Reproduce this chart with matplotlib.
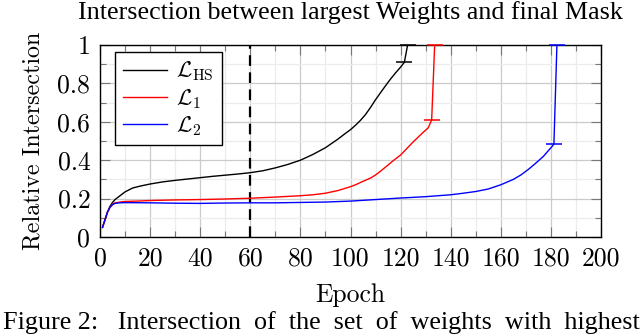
import matplotlib
matplotlib.use('Agg')
from matplotlib import pyplot as plt
from matplotlib.ticker import MultipleLocator, FuncFormatter

plt.rcParams['mathtext.fontset'] = 'cm'
plt.rcParams['axes.formatter.use_mathtext'] = True

# L_HS curve (black)
hs_epochs = [1, 2, 3, 4, 5, 6, 8, 10, 13, 16, 20, 25, 30, 35, 40, 45, 50, 55, 60,
             65, 70, 75, 80, 85, 90, 92, 95, 98, 100, 102, 104, 106, 108, 110, 112,
             114, 116, 118, 120, 121.5, 122.8]
hs_values = [0.05, 0.09, 0.13, 0.16, 0.18, 0.195, 0.215, 0.235, 0.255, 0.265, 0.276,
             0.287, 0.295, 0.302, 0.309, 0.316, 0.322, 0.328, 0.335, 0.345, 0.36,
             0.378, 0.40, 0.43, 0.465, 0.483, 0.51, 0.54, 0.559, 0.582, 0.608, 0.638,
             0.675, 0.715, 0.752, 0.788, 0.823, 0.855, 0.885, 0.91, 1.0]

# L_1 curve (red)
l1_epochs = [1, 2, 3, 4, 5, 6, 8, 10, 15, 20, 30, 40, 50, 60, 70, 80, 85, 90, 95,
             100, 102, 105, 108, 110, 112, 115, 117, 120, 123, 125, 127, 129, 131,
             132.4, 133.6]
l1_values = [0.05, 0.09, 0.13, 0.155, 0.17, 0.178, 0.182, 0.185, 0.187, 0.19, 0.193,
             0.195, 0.198, 0.202, 0.208, 0.215, 0.22, 0.228, 0.242, 0.262, 0.272,
             0.29, 0.307, 0.323, 0.343, 0.375, 0.397, 0.427, 0.468, 0.495, 0.52,
             0.545, 0.568, 0.61, 1.0]

# L_2 curve (blue)
l2_epochs = [1, 2, 3, 4, 5, 6, 8, 10, 20, 30, 40, 50, 60, 70, 80, 90, 100, 110, 120,
             130, 140, 145, 150, 155, 160, 165, 168, 171, 174, 177, 179, 180.5,
             181.2, 182.4]
l2_values = [0.05, 0.09, 0.13, 0.155, 0.168, 0.175, 0.178, 0.179, 0.178, 0.176, 0.175,
             0.177, 0.178, 0.178, 0.18, 0.182, 0.187, 0.195, 0.203, 0.21, 0.22, 0.228,
             0.237, 0.25, 0.272, 0.30, 0.323, 0.352, 0.385, 0.42, 0.45, 0.472,
             0.484, 1.0]

series = [
    (hs_epochs, hs_values, 'black', r'$\mathcal{L}_{\mathrm{HS}}$'),
    (l1_epochs, l1_values, 'red', r'$\mathcal{L}_{1}$'),
    (l2_epochs, l2_values, 'blue', r'$\mathcal{L}_{2}$'),
]

marked_epoch = 60
x_ticks = list(range(0, 201, 20))
y_ticks = [0, 0.2, 0.4, 0.6, 0.8, 1]

axis_font = 'cmr10'
serif_font = 'Liberation Serif'

figure = plt.figure(figsize=(6.4, 3.36), dpi=100)
ax = figure.add_axes([100 / 640, 99 / 336, 501 / 640, 192 / 336])

for epochs, values, color, label in series:
    ax.plot(epochs, values, color=color, linewidth=1.0, label=label, zorder=3)
    # caps at the jump to 1
    ax.plot(epochs[-2:], values[-2:], linestyle='none', marker='_', markersize=11,
            markeredgewidth=1.1, color=color, zorder=4, clip_on=False)

ax.axvline(marked_epoch, color='black', linewidth=1.6, linestyle=(0, (4.8, 2.9)), zorder=2)

ax.set_xlim(0, 200)
ax.set_ylim(0, 1)
ax.xaxis.set_minor_locator(MultipleLocator(10))
ax.yaxis.set_minor_locator(MultipleLocator(0.1))
ax.set_xticks(x_ticks)
ax.set_yticks(y_ticks)
ax.yaxis.set_major_formatter(FuncFormatter(lambda v, p: '{:g}'.format(round(v, 1))))
ax.xaxis.set_major_formatter(FuncFormatter(lambda v, p: '{:d}'.format(int(round(v)))))

ax.grid(which='major', color='#cbcbcb', linewidth=0.9, zorder=0)
ax.grid(which='minor', color='#ececec', linewidth=0.9, zorder=0)
ax.set_axisbelow(True)
ax.tick_params(which='both', direction='in', top=True, right=True, color='#777777', width=0.8)
ax.tick_params(which='major', length=7, labelsize=18.5, pad=7)
ax.tick_params(which='minor', length=4.3)
for tick_label in ax.get_xticklabels() + ax.get_yticklabels():
    tick_label.set_family(axis_font)
for spine in ax.spines.values():
    spine.set_linewidth(1.0)

ax.set_xlabel('Epoch', family=axis_font, fontsize=18.5, labelpad=9)
ax.set_ylabel('Relative Intersection', family=axis_font, fontsize=17.3, labelpad=9)

legend = ax.legend(loc='upper left', bbox_to_anchor=(0.03, 0.964), fontsize=16,
                   fancybox=False, edgecolor='black', framealpha=1, handlelength=2.0,
                   borderpad=0.35, labelspacing=0.15, handletextpad=0.4, borderaxespad=0)
legend.get_frame().set_linewidth(1.0)

figure.text(0.548, 1 - 1 / 336, 'Intersection between largest Weights and final Mask',
            ha='center', va='top', family=serif_font, fontsize=18.7)
figure.text(0.004, 7 / 336, 'Figure 2:   Intersection  of  the  set  of  weights  with  highest',
            ha='left', va='baseline', family=serif_font, fontsize=18.8)

plt.savefig('out.png', dpi=100)
